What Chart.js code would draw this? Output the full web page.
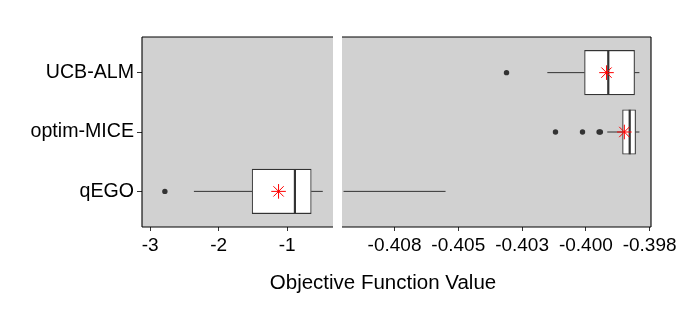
<!DOCTYPE html>
<html>
<head>
<meta charset="utf-8">
<script src="https://cdn.jsdelivr.net/npm/chart.js@4.4.1/dist/chart.umd.min.js"></script>
<style>
  html, body { margin: 0; padding: 0; background: #fff; }
  body { width: 677px; height: 317px; position: relative; overflow: hidden; font-family: "Liberation Sans", Arial, sans-serif; }
  #leftWrap { position: absolute; left: 0; top: 0; width: 333px; height: 317px; }
  #rightWrap { position: absolute; left: 342px; top: 0; width: 338px; height: 317px; }
  #xtitle { position: absolute; left: 183px; width: 400px; top: 270px; text-align: center; font-size: 20.5px; line-height: 24px; color: #000; }
</style>
</head>
<body>
<div id="leftWrap"><canvas id="leftChart" width="333" height="317"></canvas></div>
<div id="rightWrap"><canvas id="rightChart" width="338" height="317"></canvas></div>
<div id="xtitle">Objective Function Value</div>
<script>
// ---- data ----
const categories   = ['qEGO', 'optim-MICE', 'UCB-ALM'];
const whiskerLow   = [-2.362, -0.39966, -0.40201];
const q1Values     = [-1.512, -0.39906, -0.40055];
const medianValues = [-0.887, -0.39878, -0.39962];
const q3Values     = [-0.649, -0.39855, -0.39859];
const whiskerHigh  = [-0.406, -0.39840, -0.39840];
const meanValues   = [-1.126, -0.39899, -0.39969];
const outlierValues = [[-2.786], [-0.40169, -0.40063, -0.39998, -0.39993], [-0.40361]];

const leftTicks = [-3, -2, -1];
const leftTickLabels = ['-3', '-2', '-1'];
const rightTicks = [-0.408, -0.4055, -0.403, -0.4005, -0.398];
const rightTickLabels = ['-0.408', '-0.405', '-0.403', '-0.400', '-0.398'];

// axis break
const breakLow = -0.48;
const breakHigh = -0.41;

// ---- styling ----
const FONT = { family: '"Liberation Sans", Arial, sans-serif', size: 19 };
const YFONT = { family: '"Liberation Sans", Arial, sans-serif', size: 19.6 };
const DARK = '#333333';
const PANEL = '#D1D1D1';

const framePlugin = {
  id: 'frame',
  beforeDraw(chart, args, opts) {
    const a = chart.chartArea, ctx = chart.ctx;
    ctx.save();
    ctx.fillStyle = PANEL;
    ctx.fillRect(a.left, a.top, a.right - a.left, a.bottom - a.top);
    ctx.restore();
  },
  afterDatasetsDraw(chart, args, opts) {
    const a = chart.chartArea, ctx = chart.ctx;
    ctx.save();
    ctx.strokeStyle = '#000';
    ctx.lineWidth = 1.1;
    ctx.beginPath();
    (opts.sides || []).forEach(s => {
      if (s === 'top') { ctx.moveTo(a.left, a.top); ctx.lineTo(a.right, a.top); }
      if (s === 'bottom') { ctx.moveTo(a.left, a.bottom); ctx.lineTo(a.right, a.bottom); }
      if (s === 'left') { ctx.moveTo(a.left, a.top); ctx.lineTo(a.left, a.bottom); }
      if (s === 'right') { ctx.moveTo(a.right, a.top); ctx.lineTo(a.right, a.bottom); }
    });
    ctx.stroke();
    ctx.restore();
  }
};

function buildDatasets(lo, hi) {
  const inSeg = v => v >= lo && v <= hi;
  const clip = v => Math.min(Math.max(v, lo), hi);
  const ds = [];
  const boxes = [];
  categories.forEach((c, i) => {
    const a = clip(q1Values[i]), b = clip(q3Values[i]);
    if (b > a) boxes.push({ x: [a, b], y: i + 1 });
  });
  ds.push({
    type: 'bar', indexAxis: 'y', data: boxes,
    backgroundColor: '#ffffff', borderColor: DARK, borderWidth: 1.1,
    borderSkipped: false, barThickness: 44.5, order: 5
  });
  categories.forEach((c, i) => {
    [[whiskerLow[i], q1Values[i]], [q3Values[i], whiskerHigh[i]]].forEach(([a, b]) => {
      const ca = clip(a), cb = clip(b);
      if (cb > ca) ds.push({
        type: 'scatter', showLine: true, data: [{ x: ca, y: i + 1 }, { x: cb, y: i + 1 }],
        borderColor: DARK, borderWidth: 1, pointRadius: 0, order: 6
      });
    });
    if (inSeg(medianValues[i])) ds.push({
      type: 'scatter', showLine: true,
      data: [{ x: medianValues[i], y: i + 1 - 0.375 }, { x: medianValues[i], y: i + 1 + 0.375 }],
      borderColor: DARK, borderWidth: 2.2, pointRadius: 0, order: 4
    });
  });
  const outs = [];
  outlierValues.forEach((arr, i) => arr.forEach(v => { if (inSeg(v)) outs.push({ x: v, y: i + 1 }); }));
  ds.push({
    type: 'scatter', data: outs, pointRadius: 2.7, pointBackgroundColor: DARK,
    pointBorderColor: DARK, pointBorderWidth: 0, order: 3
  });
  const means = [];
  meanValues.forEach((v, i) => { if (inSeg(v)) means.push({ x: v, y: i + 1 }); });
  ds.push({
    type: 'scatter', data: means, pointStyle: 'star', pointRadius: 7.3,
    pointBorderColor: '#ff0000', pointBackgroundColor: '#ff0000', pointBorderWidth: 1, order: 1
  });
  return ds;
}

function makeChart(id, opt) {
  return new Chart(document.getElementById(id), {
    type: 'scatter',
    data: { datasets: buildDatasets(opt.lo, opt.hi) },
    plugins: [framePlugin],
    options: {
      responsive: false, animation: false, devicePixelRatio: 1,
      layout: { padding: opt.padding, autoPadding: false },
      plugins: { legend: { display: false }, tooltip: { enabled: false }, frame: { sides: opt.sides } },
      scales: {
        x: {
          type: 'linear', min: opt.min, max: opt.max, offset: false, bounds: 'data',
          afterBuildTicks: s => { s.ticks = opt.ticks.map(v => ({ value: v })); },
          ticks: { callback: (v, i) => opt.labels[i], autoSkip: false, maxRotation: 0, minRotation: 0, font: FONT, color: '#000', padding: 3 },
          grid: { offset: false, drawOnChartArea: false, drawTicks: true, tickLength: 4, color: DARK, lineWidth: 1 },
          border: { display: false },
          afterFit: s => { s.height = 90; }
        },
        y: {
          type: 'linear', min: 0.4, max: 3.6, display: opt.showY, offset: false, bounds: 'data',
          afterBuildTicks: s => { s.ticks = categories.map((c, i) => ({ value: i + 1 })); },
          ticks: { callback: v => categories[Math.round(v) - 1], font: YFONT, color: '#000', padding: 3 },
          grid: { offset: false, drawOnChartArea: false, drawTicks: true, tickLength: 5, color: DARK, lineWidth: 1 },
          border: { display: false },
          afterFit: s => { s.width = opt.showY ? 142 : 0; }
        }
      }
    }
  });
}

makeChart('leftChart', {
  lo: -Infinity, hi: breakLow, min: -3.12, max: -0.331,
  ticks: leftTicks, labels: leftTickLabels, showY: true,
  padding: { top: 37, left: 0, right: 0, bottom: 0 },
  sides: ['left', 'top', 'bottom']
});
makeChart('rightChart', {
  lo: breakHigh, hi: Infinity, min: -0.41006, max: -0.397945,
  ticks: rightTicks, labels: rightTickLabels, showY: false,
  padding: { top: 37, left: 0, right: 29, bottom: 0 },
  sides: ['right', 'top', 'bottom']
});
</script>
</body>
</html>
